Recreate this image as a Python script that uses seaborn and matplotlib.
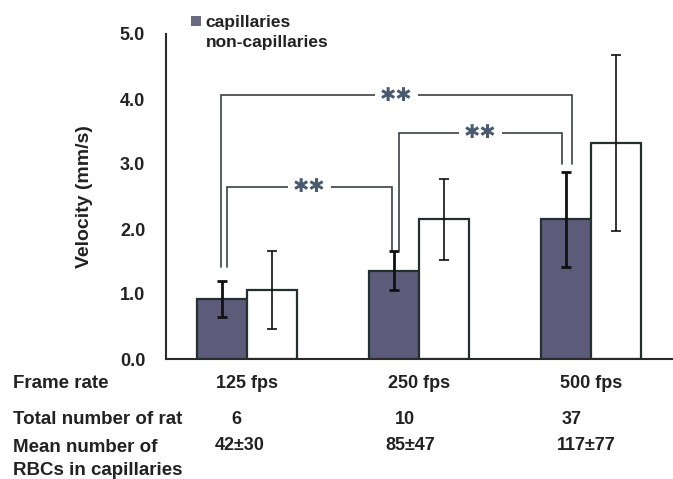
import matplotlib
matplotlib.use("Agg")
import matplotlib.pyplot as plt
import matplotlib.transforms as mtransforms
from matplotlib.patches import Patch
import seaborn as sns
import pandas as pd

# ---------------- data ----------------
frame_rates = ["125 fps", "250 fps", "500 fps"]
vessel_types = ["capillaries", "non-capillaries"]
cap_mean = [0.92, 1.36, 2.15]
cap_sd = [0.28, 0.30, 0.73]
noncap_mean = [1.06, 2.15, 3.32]
noncap_sd = [0.60, 0.62, 1.35]
rat_counts = ["6", "10", "37"]
rbc_counts = ["42±30", "85±47", "117±77"]
row_labels = ["Frame rate", "Total number of rat", "Mean number of\nRBCs in capillaries"]
y_ticks = [0.0, 1.0, 2.0, 3.0, 4.0, 5.0]
sig_label = "✱✱"

df = pd.DataFrame({
    "rate": frame_rates * 2,
    "type": [vessel_types[0]] * 3 + [vessel_types[1]] * 3,
    "velocity": cap_mean + noncap_mean,
})

# ---------------- style ----------------
sns.set_style("white")
plt.rcParams["font.family"] = ["Liberation Sans", "DejaVu Sans"]
plt.rcParams["font.weight"] = "bold"

dark = "#5c5c7a"
edge = "#24302f"
txt = "#222222"

fig = plt.figure(figsize=(6.73, 4.79), dpi=100)
ax = fig.add_axes([166 / 673, 1 - 359 / 479, (673 - 166) / 673, 325 / 479])

sns.barplot(data=df, x="rate", y="velocity", hue="type", order=frame_rates,
            hue_order=vessel_types, palette=[dark, "white"], width=0.58,
            errorbar=None, legend=False, edgecolor=edge, linewidth=1.6,
            saturation=1, ax=ax)

# error bars at the bar centres
bars = sorted(ax.patches, key=lambda p: p.get_x())
means = [v for pair in zip(cap_mean, noncap_mean) for v in pair]
sds = [v for pair in zip(cap_sd, noncap_sd) for v in pair]
centers = []
for i, (b, m, s) in enumerate(zip(bars, means, sds)):
    cx = b.get_x() + b.get_width() / 2
    centers.append(cx)
    lw = 2.0 if i % 2 == 0 else 1.2
    ax.errorbar(cx, m, yerr=s, fmt="none", ecolor="#111111", elinewidth=lw,
                capsize=3.5, capthick=lw, zorder=5)

dark_c = centers[0::2]

# significance brackets
brk_col = "#3a4046"
brackets = [
    # left x, right x, top y, left bottom, right bottom
    (dark_c[0] + 0.029, dark_c[1] - 0.012, 2.65, 1.42, 1.68),
    (dark_c[0] - 0.006, dark_c[2] + 0.035, 4.06, 1.42, 3.00),
    (dark_c[1] + 0.029, dark_c[2] - 0.024, 3.48, 1.68, 3.00),
]
for xl, xr, yt, ybl, ybr in brackets:
    ax.plot([xl, xl, xr, xr], [ybl, yt, yt, ybr], color=brk_col, lw=1.2,
            solid_joinstyle="miter", zorder=3)
    ax.text((xl + xr) / 2, yt, sig_label, ha="center", va="center",
            fontsize=14, color="#4a5a6e", family=["DejaVu Sans"],
            bbox=dict(fc="white", ec="none", pad=3.5), zorder=4)

# axes cosmetics
ax.set_xlim(-0.471, 2.477)
ax.set_ylim(0, 5.0)
ax.set_yticks(y_ticks)
ax.set_yticklabels([f"{t:.1f}" for t in y_ticks], fontsize=13, fontweight="bold", color=txt)
ax.set_xticks([0.5, 1.5])
ax.set_xticklabels([])
ax.tick_params(axis="y", direction="in", length=3, width=1.4, pad=15, colors=txt)
ax.tick_params(axis="x", direction="in", length=4, width=1.4, colors=txt)
for s in ["top", "right"]:
    ax.spines[s].set_visible(False)
for s in ["left", "bottom"]:
    ax.spines[s].set_linewidth(1.5)
    ax.spines[s].set_color("#2a2a2a")
ax.set_xlabel("")
ax.set_ylabel("Velocity (mm/s)", fontsize=14, fontweight="bold", color=txt)
ax.yaxis.set_label_coords(-0.144, 0.5)

# legend
handles = [Patch(facecolor="#6a6a82", edgecolor="none"),
           Patch(facecolor="white", edgecolor="none")]
fig.legend(handles, vessel_types, loc="upper left",
           bbox_to_anchor=(191 / 673, 1 - 15 / 479), frameon=False,
           fontsize=12.5, handlelength=0.55, handleheight=0.55,
           handletextpad=0.3, labelspacing=0.3, borderpad=0,
           borderaxespad=0, labelcolor=txt)

# table under the chart
tr = mtransforms.blended_transform_factory(ax.transData, fig.transFigure)
row_y = [1 - 384 / 479, 1 - 419 / 479, 1 - 445 / 479]
for lab, y in zip(row_labels, row_y):
    va = "center" if "\n" not in lab else "top"
    yy = y if "\n" not in lab else y + 6 / 479
    fig.text(13 / 673, yy, lab, ha="left", va=va, fontsize=13.5,
             fontweight="bold", color=txt, linespacing=1.45)

rat_off = [-0.064, -0.08, -0.11]
rbc_off = [-0.04, -0.05, -0.03]
for i, fr in enumerate(frame_rates):
    ax.text(i, row_y[0], fr, transform=tr, ha="center", va="center",
            fontsize=13, fontweight="bold", color=txt, clip_on=False)
    ax.text(i + rat_off[i], row_y[1], rat_counts[i], transform=tr, ha="center",
            va="center", fontsize=13, fontweight="bold", color=txt, clip_on=False)
    ax.text(i + rbc_off[i], row_y[2], rbc_counts[i], transform=tr, ha="center",
            va="center", fontsize=13, fontweight="bold", color=txt, clip_on=False)

fig.savefig("out.png", dpi=100)
